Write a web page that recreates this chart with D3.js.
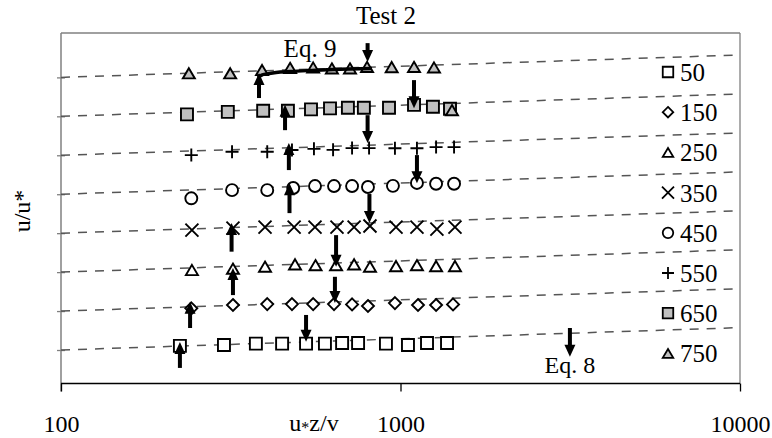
<!DOCTYPE html>
<meta charset="utf-8">
<title>Test 2</title>
<style>
  body { margin: 0; background: #fff; }
  svg text { font-family: "Liberation Serif", "Times New Roman", serif; fill: #000; }
</style>
<div id="viz"></div>
<script src="https://cdnjs.cloudflare.com/ajax/libs/d3/7.8.5/d3.min.js"></script>
<script>

// series labels and the vertical shift applied to each profile
var seriesNames = ["50", "150", "250", "350", "450", "550", "650", "750"];
var offsets = [0, 20, 40, 60, 80, 100, 120, 140];
var xTicks = [100, 1000, 10000];

// u*z/v and u/u*, one pair per profile
var x50  = [224, 302, 375, 448, 527, 599, 673, 750, 906, 1052, 1197, 1371];
var u50  = [19.3, 19.8, 20.5, 20.5, 20.5, 20.5, 20.8, 20.8, 20.5, 19.8, 20.8, 20.8];
var x150 = [242, 321, 405, 479, 553, 637, 720, 802, 963, 1126, 1273, 1428];
var u150 = [18.6, 20.3, 20.8, 20.8, 20.8, 20.8, 20.6, 19.8, 21.3, 20.3, 20.3, 20.6];
var x250 = [243, 321, 399, 489, 562, 646, 730, 813, 970, 1118, 1273, 1447];
var u250 = [18.3, 19.0, 20.0, 21.2, 20.8, 20.8, 21.2, 20.0, 20.3, 20.8, 20.3, 20.3];
var x350 = [243, 321, 399, 486, 560, 650, 730, 813, 970, 1118, 1280, 1447];
var u350 = [18.8, 19.8, 20.3, 20.3, 20.3, 20.3, 20.3, 20.9, 20.3, 20.3, 19.3, 20.3];
var x450 = [242, 319, 405, 483, 560, 637, 720, 802, 950, 1118, 1273, 1438];
var u450 = [15.1, 19.3, 19.3, 20.4, 21.4, 21.4, 21.4, 20.9, 21.5, 23.0, 22.6, 22.6];
var x550 = [242, 319, 405, 479, 556, 633, 720, 808, 963, 1118, 1273, 1438];
var u550 = [17.3, 19.0, 19.0, 19.9, 20.5, 20.0, 20.9, 20.9, 20.8, 20.8, 21.4, 21.4];
var x650 = [235, 310, 394, 466, 545, 620, 700, 780, 925, 1096, 1246, 1399];
var u650 = [18.2, 19.5, 20.1, 20.1, 20.8, 21.3, 21.6, 21.6, 21.6, 23.1, 22.1, 21.1];
var x750 = [238, 315, 391, 473, 553, 628, 710, 797, 942, 1096, 1255, 1418];
var u750 = [19.3, 19.3, 21.0, 22.1, 22.3, 21.8, 21.8, 22.6, 22.5, 22.6, 22.3, 0.4];

// dashed log-law reference lines: value at x=100 and at x=10000
var refStart = 17.2;
var refEnd = 28.7;

// arrows (per profile): x position, tip and tail in u/u*
var upX    = [224, 240, 321, 318, 471, 469, 457, 383];
var upTip  = [21.3, 22.0, 19.3, 22.4, 22.9, 23.5, 23.1, 19.4];
var upTail = [8.0, 8.5, 5.4, 7.7, 7.5, 9.6, 10.1, 6.6];
var downX    = [527, 641, 646, 810, 1118, 800, 1096, 800];
var downTip  = [21.5, 21.3, 20.0, 22.4, 22.9, 23.5, 21.4, 25.1];
var downTail = [35.2, 34.8, 36.2, 37.3, 37.3, 37.8, 35.8, 34.8];

// Eq. 8 marker on the lowest profile
var eq8X = 3155, eq8Tip = 13.8, eq8Tail = 28.5;

// Eq. 9 curve on the top profile
var eq9X = [380, 390, 404, 430, 473, 550, 632, 824];
var eq9U = [17.2, 18.4, 19.0, 19.7, 20.2, 20.8, 21.3, 21.8];

var xsAll = [x50, x150, x250, x350, x450, x550, x650, x750];
var usAll = [u50, u150, u250, u350, u450, u550, u650, u750];
var shapes = ["square", "diamond", "triangle", "x", "circle", "plus", "square", "triangle"];
var fills = ["#fff", "#fff", "#fff", "none", "#fff", "none", "#c0c0c0", "#c0c0c0"];

var width = 772, height = 438;
var padL = 61, padR = 740, padT = 33, padB = 383.5;

var svg = d3.select("#viz").append("svg")
    .attr("width", width)
    .attr("height", height);

var x = d3.scaleLog().domain([100, 10000]).range([padL, padR]);
var y = d3.scaleLinear().domain([0, 180]).range([padB, padT]);

// marker path, centred on 0,0
function shapePath(kind, s) {
  var h = s / 2;
  switch (kind) {
    case "square":
      return "M" + -h + "," + -h + "h" + s + "v" + s + "h" + -s + "Z";
    case "diamond":
      return "M0," + -h + "L" + h + ",0L0," + h + "L" + -h + ",0Z";
    case "triangle":
      var th = s * 0.85;
      return "M0," + (-th / 2) + "L" + h + "," + (th / 2) + "L" + -h + "," + (th / 2) + "Z";
    case "x":
      return "M" + -h + "," + -h + "L" + h + "," + h + "M" + h + "," + -h + "L" + -h + "," + h;
    case "plus":
      return "M" + -h + ",0H" + h + "M0," + -h + "V" + h;
    case "circle":
      return "M" + h + ",0A" + h + "," + h + " 0 1,1 " + -h + ",0A" + h + "," + h + " 0 1,1 " + h + ",0Z";
  }
}

// frame: top and right in grey
svg.append("line").attr("x1", padL).attr("x2", padR).attr("y1", padT).attr("y2", padT)
  .attr("stroke", "#808080").attr("stroke-width", 1.3);
svg.append("line").attr("x1", padR).attr("x2", padR).attr("y1", padT).attr("y2", padB)
  .attr("stroke", "#808080").attr("stroke-width", 1.3);

// left axis (grey, crossing ticks, no labels)
var yAxis = svg.append("g")
  .attr("transform", "translate(" + padL + ",0)")
  .call(d3.axisLeft(y).tickValues(offsets.map(function(o) { return o + refStart; }))
    .tickSize(4).tickFormat(""));
yAxis.select(".domain").remove();
yAxis.selectAll(".tick line").attr("x2", -4).attr("x1", 4)
  .attr("stroke", "#808080").attr("stroke-width", 1.3);
svg.append("line").attr("x1", padL).attr("x2", padL).attr("y1", padT).attr("y2", padB + 8)
  .attr("stroke", "#808080").attr("stroke-width", 1.5);

// bottom axis
var xAxis = svg.append("g")
  .attr("transform", "translate(0," + padB + ")")
  .call(d3.axisBottom(x).tickValues(xTicks).tickSize(8).tickPadding(23)
    .tickFormat(d3.format("d")));
xAxis.select(".domain").attr("d", "M" + padL + ",0H" + padR)
  .attr("stroke", "#000").attr("stroke-width", 1.3);
xAxis.selectAll(".tick line").attr("stroke", "#000").attr("stroke-width", 1.3);
xAxis.selectAll(".tick text").attr("font-size", 24)
  .attr("font-family", '"Liberation Serif", "Times New Roman", serif');

// dashed reference lines
svg.append("g").selectAll("line")
  .data(offsets)
  .join("line")
  .attr("x1", x(100)).attr("x2", x(10000))
  .attr("y1", function(o) { return y(o + refStart); })
  .attr("y2", function(o) { return y(o + refEnd); })
  .attr("stroke", "#555")
  .attr("stroke-width", 1.5)
  .attr("stroke-dasharray", "9,8");

// markers
xsAll.forEach(function(xs, i) {
  var pts = xs.map(function(v, j) { return [v, usAll[i][j] + offsets[i]]; });
  var size = shapes[i] == "x" || shapes[i] == "plus" ? 13 : 12;
  svg.append("g").selectAll("path")
    .data(pts)
    .join("path")
    .attr("transform", function(d) { return "translate(" + x(d[0]) + "," + y(d[1]) + ")"; })
    .attr("d", shapePath(shapes[i], size))
    .attr("fill", fills[i])
    .attr("stroke", "#000")
    .attr("stroke-width", 1.9);
});

// Eq. 9 curve
var eq9 = eq9X.map(function(v, j) { return [v, eq9U[j] + offsets[7]]; });
svg.append("path")
  .datum(eq9)
  .attr("d", d3.line().x(function(d) { return x(d[0]); }).y(function(d) { return y(d[1]); })
    .curve(d3.curveMonotoneX))
  .attr("fill", "none")
  .attr("stroke", "#000")
  .attr("stroke-width", 3.5);

// arrows
function arrow(xv, tipV, tailV) {
  var px = x(xv), ty = y(tipV), ly = y(tailV);
  var dir = ly > ty ? 1 : -1;       // 1: pointing up
  var head = 12 * dir;
  svg.append("line")
    .attr("x1", px).attr("x2", px)
    .attr("y1", ly).attr("y2", ty + head * 0.8)
    .attr("stroke", "#000").attr("stroke-width", 4);
  svg.append("path")
    .attr("d", "M" + px + "," + ty + "L" + (px + 5.5) + "," + (ty + head) + "L" + (px - 5.5) + "," + (ty + head) + "Z")
    .attr("fill", "#000");
}
offsets.forEach(function(o, i) {
  arrow(upX[i], upTip[i] + o, upTail[i] + o);
  arrow(downX[i], downTip[i] + o, downTail[i] + o);
});
arrow(eq8X, eq8Tip, eq8Tail);

// labels
svg.append("text").attr("x", 386).attr("y", 24).attr("text-anchor", "middle")
  .attr("font-size", 25).text("Test 2");
svg.append("text").attr("x", 310).attr("y", 57).attr("text-anchor", "middle")
  .attr("font-size", 25).text("Eq. 9");
svg.append("text").attr("x", x(eq8X)).attr("y", 373).attr("text-anchor", "middle")
  .attr("font-size", 24).text("Eq. 8");

var xl = svg.append("text").attr("x", 314).attr("y", 431).attr("text-anchor", "middle")
  .attr("font-size", 24);
xl.append("tspan").text("u");
xl.append("tspan").attr("font-size", 16).attr("dy", 2).text("*");
xl.append("tspan").attr("dy", -2).text("z/v");

svg.append("text")
  .attr("transform", "translate(30,211) rotate(-90)")
  .attr("text-anchor", "middle")
  .attr("font-size", 24)
  .text("u/u*");

// legend (750 at the bottom)
var legend = svg.append("g").selectAll("g")
  .data(seriesNames)
  .join("g")
  .attr("transform", function(d, i) { return "translate(668," + (72 + 40.2 * i) + ")"; });
legend.append("path")
  .attr("d", function(d, i) { return shapePath(shapes[i], shapes[i] == "x" || shapes[i] == "plus" ? 12 : 10.5); })
  .attr("fill", function(d, i) { return fills[i]; })
  .attr("stroke", "#000")
  .attr("stroke-width", 1.8);
legend.append("text")
  .attr("x", 12)
  .attr("dy", "0.36em")
  .attr("font-size", 25)
  .text(function(d) { return d; });

</script>
